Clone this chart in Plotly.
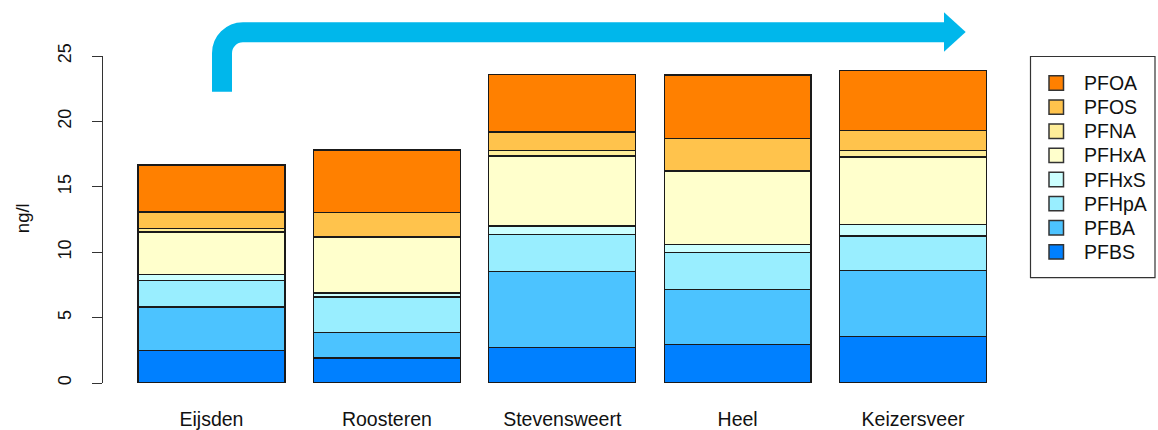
import plotly.graph_objects as go

# ---- data ----
sites = ["Eijsden", "Roosteren", "Stevensweert", "Heel", "Keizersveer"]
compounds = ["PFBS", "PFBA", "PFHpA", "PFHxS", "PFHxA", "PFNA", "PFOS", "PFOA"]
PFBS  = [2.50, 1.91, 2.71, 2.96, 3.55]
PFBA  = [3.32, 1.94, 5.81, 4.19, 5.07]
PFHpA = [2.04, 2.73, 2.83, 2.83, 2.63]
PFHxS = [0.46, 0.31, 0.66, 0.61, 0.87]
PFHxA = [3.23, 4.28, 5.34, 5.61, 5.17]
PFNA  = [0.26, 0.05, 0.40, 0.05, 0.46]
PFOS  = [1.27, 1.84, 1.45, 2.45, 1.56]
PFOA  = [3.58, 4.75, 4.40, 4.84, 4.57]
series = [PFBS, PFBA, PFHpA, PFHxS, PFHxA, PFNA, PFOS, PFOA]
colors = ["#0080FF", "#4CC3FF", "#99EEFF", "#CCFFFF", "#FFFFCC", "#FFEE99", "#FFC34C", "#FF8000"]
y_ticks = [0, 5, 10, 15, 20, 25]
y_title = "ng/l"

# ---- layout geometry (pixels) ----
W, H = 1158, 430
PL, PR, PT, PB = 103, 1005, 56, 382.7
FONT = "Liberation Sans, Arial, sans-serif"

def px(x):
    return (x - PL) / (PR - PL)

def py(y):
    return (PB - y) / (PB - PT)

fig = go.Figure()
for name, vals, col in zip(compounds, series, colors):
    fig.add_trace(go.Bar(
        x=sites, y=vals, name=name,
        marker=dict(color=col, line=dict(color="#1a1a1a", width=1.3)),
        showlegend=False,
    ))

shapes = []
annotations = []

# arrow
r = 21
k = 0.5523
xc, yc = 222, 32.3
pts = [
    ("M", [(xc, 91.7)]),
    ("L", [(xc, yc + r)]),
    ("C", [(xc, yc + r * (1 - k)), (xc + r * (1 - k), yc), (xc + r, yc)]),
    ("L", [(945, yc)]),
]
path = ""
for cmd, pl in pts:
    path += cmd + " ".join(f"{px(a):.5f},{py(b):.5f}" for a, b in pl) + " "
shapes.append(dict(type="path", xref="paper", yref="paper", path=path.strip(),
                   line=dict(color="#00B7EB", width=20), fillcolor="rgba(0,0,0,0)"))
tri = f"M{px(944):.5f},{py(12.3):.5f} L{px(965.7):.5f},{py(32):.5f} L{px(944):.5f},{py(51.7):.5f} Z"
shapes.append(dict(type="path", xref="paper", yref="paper", path=tri,
                   line=dict(width=0), fillcolor="#00B7EB"))

# legend (manual, R style)
shapes.append(dict(type="rect", xref="paper", yref="paper",
                   x0=px(1030.5), x1=px(1155), y0=py(56.5), y1=py(277.5),
                   line=dict(color="#333333", width=1.2), fillcolor="rgba(0,0,0,0)"))
for i, (name, col) in enumerate(zip(compounds[::-1], colors[::-1])):
    cy = 83 + 24.1 * i
    shapes.append(dict(type="rect", xref="paper", yref="paper",
                       x0=px(1049), x1=px(1063.5), y0=py(cy - 7.2), y1=py(cy + 7.2),
                       line=dict(color="#333333", width=1.5), fillcolor=col))
    annotations.append(dict(text=name, xref="paper", yref="paper", x=px(1082), y=py(cy),
                            xanchor="left", yanchor="middle", showarrow=False,
                            font=dict(family=FONT, size=19.5, color="#111111")))

# y-axis title
annotations.append(dict(text=y_title, xref="paper", yref="paper", x=px(22), y=py(218),
                        xanchor="center", yanchor="middle", textangle=-90, showarrow=False,
                        font=dict(family=FONT, size=18.5, color="#111111")))

fig.update_layout(
    width=W, height=H,
    margin=dict(l=PL, r=W - PR, t=PT, b=H - PB, pad=0),
    paper_bgcolor="white", plot_bgcolor="white",
    barmode="stack", bargap=0.162,
    showlegend=False,
    shapes=shapes, annotations=annotations,
    font=dict(family=FONT, color="#111111"),
    xaxis=dict(range=[-(211.5 - PL) / 175.4, 4 + (PR - 913) / 175.4],
               showline=False, showgrid=False, zeroline=False, ticks="",
               tickfont=dict(family=FONT, size=19.5, color="#111111"),
               ticklabelstandoff=22, fixedrange=True, automargin=False),
    yaxis=dict(range=[0, 25], tickvals=y_ticks, showgrid=False, zeroline=False,
               showline=True, linecolor="#333333", linewidth=1.2,
               ticks="outside", ticklen=10, tickcolor="#333333", tickwidth=1.2,
               tickangle=-90, tickfont=dict(family=FONT, size=18, color="#111111"),
               ticklabelstandoff=14, fixedrange=True, automargin=False),
)

fig.write_html("out.html", config={"displayModeBar": False})
